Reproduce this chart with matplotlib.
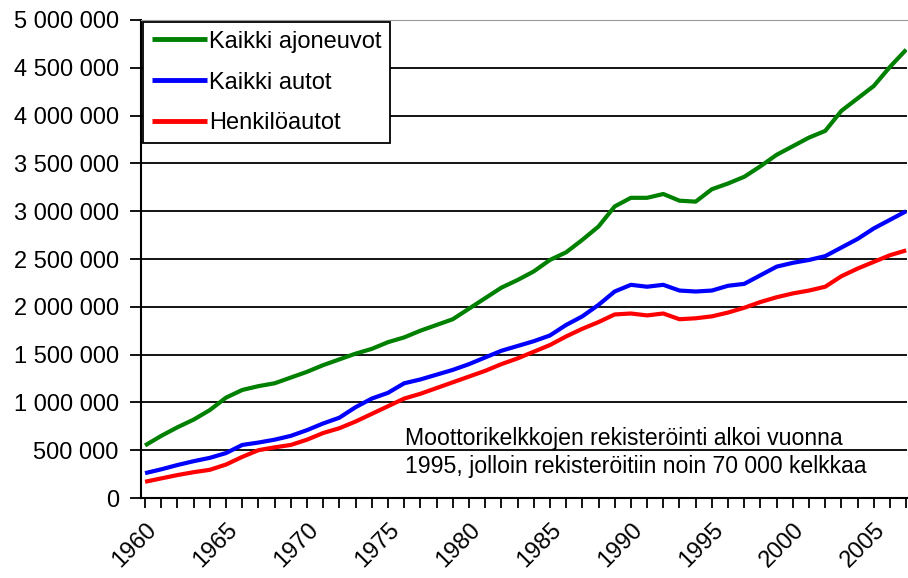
import matplotlib
matplotlib.use("Agg")
import matplotlib.pyplot as plt
from matplotlib.ticker import FuncFormatter, MultipleLocator

plt.rcParams['font.family'] = ['Liberation Sans', 'DejaVu Sans']

years = list(range(1960, 2008))

kaikki_ajoneuvot = [
    550000, 650000, 740000, 820000, 920000, 1050000, 1130000, 1170000, 1200000, 1260000,
    1320000, 1390000, 1450000, 1510000, 1560000, 1630000, 1680000, 1750000, 1810000, 1870000,
    1980000, 2090000, 2200000, 2280000, 2370000, 2490000, 2570000, 2700000, 2840000, 3050000,
    3140000, 3140000, 3180000, 3110000, 3100000, 3230000, 3290000, 3360000, 3470000, 3590000,
    3680000, 3770000, 3840000, 4050000, 4180000, 4310000, 4510000, 4690000]

kaikki_autot = [
    260000, 300000, 345000, 385000, 420000, 470000, 555000, 580000, 610000, 650000,
    710000, 780000, 840000, 950000, 1040000, 1100000, 1200000, 1240000, 1290000, 1340000,
    1400000, 1470000, 1540000, 1590000, 1640000, 1700000, 1810000, 1900000, 2020000, 2160000,
    2230000, 2210000, 2230000, 2170000, 2160000, 2170000, 2220000, 2240000, 2330000, 2420000,
    2460000, 2490000, 2530000, 2620000, 2710000, 2820000, 2910000, 3000000]

henkiloautot = [
    170000, 205000, 240000, 270000, 295000, 350000, 430000, 500000, 530000, 555000,
    610000, 680000, 730000, 800000, 880000, 960000, 1040000, 1090000, 1150000, 1210000,
    1270000, 1330000, 1400000, 1460000, 1530000, 1600000, 1690000, 1770000, 1840000, 1920000,
    1930000, 1910000, 1930000, 1870000, 1880000, 1900000, 1940000, 1990000, 2050000, 2100000,
    2140000, 2170000, 2210000, 2320000, 2400000, 2470000, 2540000, 2590000]

series_labels = ["Kaikki ajoneuvot", "Kaikki autot", "Henkilöautot"]
series_colors = ["#008000", "#0000FF", "#FF0000"]
note = "Moottorikelkkojen rekisteröinti alkoi vuonna\n1995, jolloin rekisteröitiin noin 70 000 kelkkaa"

fig = plt.figure(figsize=(9.08, 5.78), dpi=100)
ax = fig.add_axes([0.1553, 0.1384, 0.8436, 0.8270])

for vals, lab, col in zip([kaikki_ajoneuvot, kaikki_autot, henkiloautot], series_labels, series_colors):
    ax.plot(years, vals, color=col, lw=3.0, label=lab, solid_capstyle='butt')

ax.set_xlim(1959.75, 2007.05)
ax.set_ylim(0, 5000000)
ax.yaxis.set_major_locator(MultipleLocator(500000))
ax.yaxis.set_major_formatter(FuncFormatter(lambda v, p: f"{int(v):,}".replace(",", " ")))
ax.xaxis.set_major_locator(MultipleLocator(5))
ax.xaxis.set_minor_locator(MultipleLocator(1))
ax.grid(axis='y', color='black', lw=1.3)
ax.set_axisbelow(True)

ax.tick_params(axis='y', which='major', direction='out', length=8, width=1.3, labelsize=17, pad=8, colors='black')
ax.tick_params(axis='x', which='both', direction='out', length=7, width=1.3, labelsize=17, pad=8)
plt.setp(ax.get_xticklabels(), rotation=45, ha='right', rotation_mode='anchor')

ax.spines['right'].set_visible(False)
ax.spines['top'].set_color('#999999')
ax.spines['left'].set_linewidth(1.5)
ax.spines['bottom'].set_linewidth(1.5)

leg = ax.legend(loc='upper left', fontsize=17, frameon=True, fancybox=False,
                edgecolor='black', framealpha=1, borderaxespad=0.1,
                handlelength=2.35, handletextpad=0.1, labelspacing=0.8, borderpad=0.35)
leg.get_frame().set_linewidth(1.3)
for h in leg.get_lines():
    h.set_linewidth(3.5)

ax.text(0.345, 0.042, note, transform=ax.transAxes, fontsize=16.6, ha='left', va='bottom',
        linespacing=1.3)

fig.savefig("out.png", dpi=100)
